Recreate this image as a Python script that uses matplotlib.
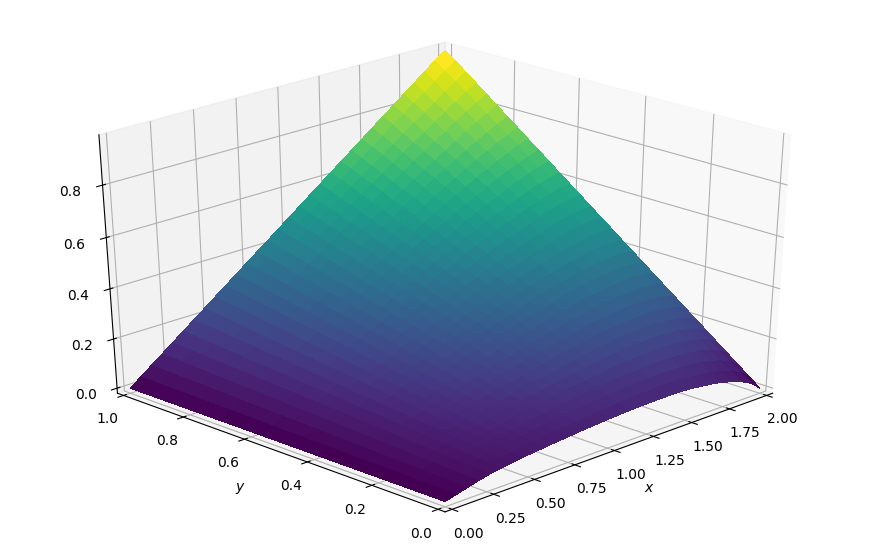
import numpy as np
import matplotlib
matplotlib.use("Agg")
import matplotlib.pyplot as plt
from mpl_toolkits.mplot3d import Axes3D

x_values = np.linspace(0, 2, 31)
y_values = np.linspace(0, 1, 31)

# surface heights, one column per x value
# (relative units, 1029 of them make 1.0 on the z axis)
z_columns = [
    [0] * 31,
    [12, 13, 13, 14, 15, 16, 16, 17, 18, 18, 19, 20, 21, 21, 22, 23, 23, 24, 25, 26, 26, 27, 28, 28, 29, 30, 30, 31, 32, 33, 33],
    [24, 25, 27, 28, 30, 31, 33, 34, 35, 37, 38, 40, 41, 42, 44, 45, 47, 48, 50, 51, 52, 54, 55, 57, 58, 60, 61, 62, 64, 65, 67],
    [36, 38, 40, 42, 45, 47, 49, 51, 53, 55, 57, 59, 62, 64, 66, 68, 70, 72, 74, 77, 79, 81, 83, 85, 87, 89, 91, 94, 96, 98, 100],
    [46, 49, 52, 55, 58, 61, 63, 66, 69, 72, 75, 78, 81, 84, 87, 90, 93, 95, 98, 101, 104, 107, 110, 113, 116, 119, 122, 125, 127, 130, 133],
    [53, 57, 61, 64, 68, 72, 76, 80, 83, 87, 91, 95, 98, 102, 106, 110, 114, 117, 121, 125, 129, 133, 136, 140, 144, 148, 152, 155, 159, 163, 167],
    [60, 65, 69, 74, 79, 83, 88, 93, 97, 102, 107, 111, 116, 121, 125, 130, 135, 139, 144, 149, 153, 158, 163, 167, 172, 177, 181, 186, 191, 195, 200],
    [66, 72, 77, 83, 88, 94, 99, 105, 111, 116, 122, 127, 133, 139, 144, 150, 155, 161, 166, 172, 178, 183, 189, 194, 200, 205, 211, 217, 222, 228, 233],
    [71, 78, 84, 91, 97, 104, 110, 117, 123, 130, 136, 143, 149, 156, 162, 169, 175, 182, 188, 195, 201, 208, 214, 221, 228, 234, 241, 247, 254, 260, 267],
    [75, 83, 90, 98, 105, 113, 120, 128, 135, 143, 150, 158, 165, 173, 180, 188, 195, 203, 210, 218, 225, 233, 240, 248, 255, 263, 270, 278, 285, 293, 300],
    [80, 88, 97, 105, 114, 122, 131, 139, 148, 156, 164, 173, 181, 190, 198, 207, 215, 224, 232, 240, 249, 257, 266, 274, 283, 291, 300, 308, 316, 325, 333],
    [84, 93, 103, 112, 122, 131, 141, 150, 159, 169, 178, 188, 197, 206, 216, 225, 235, 244, 254, 263, 272, 282, 291, 301, 310, 320, 329, 338, 348, 357, 367],
    [88, 98, 109, 119, 130, 140, 150, 161, 171, 182, 192, 202, 213, 223, 234, 244, 254, 265, 275, 286, 296, 306, 317, 327, 338, 348, 358, 369, 379, 390, 400],
    [92, 103, 115, 126, 138, 149, 160, 172, 183, 194, 206, 217, 229, 240, 251, 263, 274, 285, 297, 308, 320, 331, 342, 354, 365, 376, 388, 399, 411, 422, 433],
    [95, 107, 120, 132, 145, 157, 169, 182, 194, 207, 219, 231, 244, 256, 268, 281, 293, 306, 318, 330, 343, 355, 368, 380, 392, 405, 417, 430, 442, 454, 467],
    [98, 111, 125, 138, 152, 165, 178, 192, 205, 219, 232, 245, 259, 272, 286, 299, 312, 326, 339, 353, 366, 379, 393, 406, 420, 433, 446, 460, 473, 487, 500],
    [101, 115, 130, 144, 159, 173, 187, 202, 216, 231, 245, 260, 274, 288, 303, 317, 332, 346, 360, 375, 389, 404, 418, 432, 447, 461, 476, 490, 505, 519, 533],
    [103, 118, 134, 149, 165, 180, 196, 211, 227, 242, 258, 273, 288, 304, 319, 335, 350, 366, 381, 397, 412, 428, 443, 459, 474, 489, 505, 520, 536, 551, 567],
    [105, 122, 138, 155, 171, 188, 204, 221, 237, 254, 270, 287, 303, 320, 336, 353, 369, 386, 402, 419, 435, 452, 468, 485, 501, 518, 534, 551, 567, 584, 600],
    [106, 124, 141, 159, 176, 194, 211, 229, 247, 264, 282, 299, 317, 335, 352, 370, 387, 405, 422, 440, 458, 475, 493, 510, 528, 545, 563, 581, 598, 616, 633],
    [107, 126, 144, 163, 182, 200, 219, 238, 256, 275, 294, 312, 331, 350, 368, 387, 405, 424, 443, 461, 480, 499, 517, 536, 555, 573, 592, 611, 629, 648, 667],
    [107, 127, 147, 166, 186, 206, 226, 245, 265, 285, 305, 324, 344, 364, 384, 404, 423, 443, 463, 483, 502, 522, 542, 562, 581, 601, 621, 641, 660, 680, 700],
    [106, 127, 148, 169, 190, 211, 231, 252, 273, 294, 315, 336, 357, 378, 399, 420, 441, 461, 482, 503, 524, 545, 566, 587, 608, 629, 650, 671, 691, 712, 733],
    [103, 125, 147, 169, 191, 214, 236, 258, 280, 302, 324, 346, 368, 391, 413, 435, 457, 479, 501, 523, 545, 568, 590, 612, 634, 656, 678, 700, 722, 745, 767],
    [98, 121, 145, 168, 192, 215, 238, 262, 285, 309, 332, 355, 379, 402, 426, 449, 472, 496, 519, 543, 566, 589, 613, 636, 660, 683, 706, 730, 753, 777, 800],
    [92, 117, 141, 166, 191, 216, 240, 265, 290, 314, 339, 364, 389, 413, 438, 463, 487, 512, 537, 561, 586, 611, 636, 660, 685, 710, 734, 759, 784, 809, 833],
    [84, 110, 136, 162, 188, 214, 241, 267, 293, 319, 345, 371, 397, 423, 449, 475, 501, 528, 554, 580, 606, 632, 658, 684, 710, 736, 762, 788, 815, 841, 867],
    [72, 100, 127, 155, 182, 210, 238, 265, 293, 320, 348, 376, 403, 431, 458, 486, 514, 541, 569, 596, 624, 652, 679, 707, 734, 762, 790, 817, 845, 872, 900],
    [57, 86, 115, 145, 174, 203, 232, 261, 291, 320, 349, 378, 408, 437, 466, 495, 524, 554, 583, 612, 641, 670, 700, 729, 758, 787, 816, 846, 875, 904, 933],
    [36, 67, 98, 129, 160, 191, 222, 253, 284, 315, 346, 377, 408, 439, 470, 501, 532, 563, 594, 625, 656, 687, 718, 749, 780, 811, 843, 874, 905, 936, 967],
    [0, 33, 67, 100, 133, 167, 200, 233, 267, 300, 333, 367, 400, 433, 467, 500, 533, 567, 600, 633, 667, 700, 733, 767, 800, 833, 867, 900, 933, 967, 995],
]

x_ticks = [0, 0.25, 0.5, 0.75, 1.0, 1.25, 1.5, 1.75, 2.0]
y_ticks = [0, 0.2, 0.4, 0.6, 0.8, 1.0]
z_ticks = [0, 0.2, 0.4, 0.6, 0.8]

X, Y = np.meshgrid(x_values, y_values)
Z = np.array(z_columns).T / 1029

fig = plt.figure(figsize=(8.72, 5.48), dpi=100)
ax = fig.add_axes([0.039, 0.0419, 0.918, 0.915], projection="3d")
# let the 3d box stretch with the axes instead of staying square
ax.apply_aspect = lambda position=None: None
ax.set_box_aspect((1, 1, 1))
ax.plot_surface(X, Y, Z, cmap="viridis", rstride=1, cstride=1, linewidth=0, antialiased=False)
ax.view_init(elev=30, azim=225)
ax.set_xlim(-2 / 48, 2 + 2 / 48)
ax.set_ylim(-1 / 48, 1 + 1 / 48)
ax.set_zlim(-1 / 48, 0.988)
ax.set_xticks(x_ticks)
ax.set_yticks(y_ticks)
ax.set_zticks(z_ticks)
ax.set_xlabel("$x$")
ax.set_ylabel("$y$")
fig.savefig("out.png", dpi=100)
